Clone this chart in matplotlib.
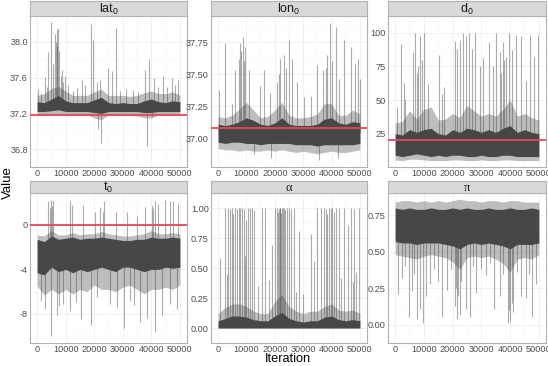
import numpy as np
import matplotlib.pyplot as plt

plt.rcParams['font.family'] = ['Liberation Sans', 'DejaVu Sans']
plt.rcParams['mathtext.fontset'] = 'custom'
plt.rcParams['mathtext.rm'] = 'Liberation Sans'
plt.rcParams['mathtext.it'] = 'Liberation Sans:italic'

# band grid (iterations)
iters = np.arange(0, 50001, 2500)

# lat0
lat_core_lo = [37.22, 37.22, 37.23, 37.24, 37.22, 37.22, 37.22, 37.22, 37.21, 37.20, 37.22,
               37.22, 37.22, 37.22, 37.22, 37.21, 37.21, 37.22, 37.22, 37.22, 37.22]
lat_core_hi = [37.33, 37.32, 37.36, 37.40, 37.34, 37.32, 37.32, 37.32, 37.35, 37.38, 37.32,
               37.31, 37.32, 37.31, 37.31, 37.34, 37.36, 37.33, 37.32, 37.34, 37.33]
lat_fuzz_lo = [37.19, 37.18, 37.19, 37.20, 37.18, 37.18, 37.18, 37.18, 37.15, 37.13, 37.18,
               37.18, 37.18, 37.18, 37.17, 37.15, 37.15, 37.18, 37.18, 37.18, 37.19]
lat_fuzz_hi = [37.40, 37.42, 37.48, 37.50, 37.45, 37.40, 37.40, 37.40, 37.44, 37.47, 37.40,
               37.40, 37.40, 37.39, 37.40, 37.43, 37.45, 37.42, 37.42, 37.44, 37.40]
lat_spike_it = [420, 1500, 2750, 3300, 3900, 4700, 5600, 6250, 6500, 6800, 7000, 7400, 7700,
                8200, 8600, 9200, 9750, 10900, 12500, 13800, 15600, 16750, 18850, 19700, 21400,
                22350, 21000, 22000, 24900, 26400, 27800, 29000, 31300, 33700, 35500, 37750,
                38600, 39300, 40100, 40900, 42500, 44200, 45600, 47100, 48300, 49400]
lat_spike_val = [37.47, 37.42, 37.61, 37.50, 37.89, 38.22, 37.75, 38.09, 38.00, 38.14, 37.95,
                 38.16, 37.90, 37.62, 37.69, 37.55, 37.62, 37.52, 37.45, 37.48, 37.57, 37.52,
                 38.20, 38.02, 37.02, 36.87, 37.55, 37.57, 37.71, 37.67, 38.16, 37.45, 37.47,
                 37.46, 37.44, 37.69, 36.84, 37.81, 37.16, 37.59, 37.50, 37.62, 37.50, 37.59,
                 37.52, 37.57]

# lon0
lon_core_lo = [36.97, 36.96, 36.97, 36.97, 36.96, 36.96, 36.95, 36.96, 36.96, 36.96, 36.96,
               36.95, 36.95, 36.95, 36.94, 36.95, 36.95, 36.95, 36.95, 36.95, 36.96]
lon_core_hi = [37.11, 37.10, 37.11, 37.13, 37.16, 37.14, 37.11, 37.10, 37.12, 37.16, 37.11,
               37.10, 37.10, 37.10, 37.11, 37.15, 37.16, 37.12, 37.11, 37.13, 37.12]
lon_fuzz_lo = [36.92, 36.91, 36.91, 36.90, 36.91, 36.90, 36.90, 36.91, 36.90, 36.91, 36.90,
               36.89, 36.90, 36.89, 36.88, 36.89, 36.90, 36.89, 36.89, 36.90, 36.91]
lon_fuzz_hi = [37.17, 37.16, 37.18, 37.23, 37.28, 37.22, 37.16, 37.17, 37.22, 37.28, 37.18,
               37.16, 37.16, 37.17, 37.19, 37.27, 37.27, 37.18, 37.18, 37.22, 37.19]
lon_spike_it = [340, 2470, 4840, 6020, 7300, 7800, 8200, 8740, 9100, 9570, 10750, 14900, 16080,
                18450, 20800, 21500, 22000, 23170, 24000, 24950, 26130, 27900, 30270, 32640,
                34770, 37130, 38000, 38550, 39500, 40300, 41510, 42700, 44470, 46830, 48250,
                49200, 49900, 12500, 18800, 35600, 42100]
lon_spike_val = [37.38, 37.74, 37.27, 37.53, 37.62, 37.74, 37.68, 37.79, 37.60, 37.71, 37.53,
                 37.41, 37.53, 37.35, 37.44, 37.50, 37.62, 37.65, 37.55, 37.77, 37.62, 37.44,
                 37.32, 37.33, 37.57, 37.53, 37.55, 37.65, 37.90, 37.60, 37.87, 37.46, 37.77,
                 37.71, 37.58, 37.62, 37.46, 36.88, 36.85, 36.83, 36.85]

# d0
d_core_lo = [9, 8, 9, 10, 9, 8, 9, 8, 9, 9, 8, 8, 9, 8, 8, 9, 9, 8, 8, 8, 8]
d_core_hi = [25, 24, 28, 26, 28, 29, 25, 24, 28, 26, 29, 28, 26, 28, 26, 29, 31, 26, 28, 26, 25]
d_fuzz_lo = [5.5, 5, 6, 6, 5.5, 5, 5, 5, 5.5, 5.5, 5, 5, 5.5, 5, 5, 5.5, 5.5, 5, 5, 5, 5]
d_fuzz_hi = [33, 34, 42, 36, 43, 45, 35, 36, 40, 37, 46, 42, 38, 40, 38, 43, 50, 38, 40, 37, 35]
d_spike_it = [600, 2000, 2920, 3500, 6150, 6950, 7500, 8110, 8680, 9300, 10070, 11570, 15370,
              16180, 17000, 20790, 21600, 22520, 23440, 24600, 25750, 26900, 27700, 29440,
              30600, 32670, 34050, 34970, 36350, 37000, 37510, 38000, 38660, 39580, 40740,
              42120, 43850, 45580, 46960, 48460, 49620]
d_spike_val = [45, 91.7, 62.7, 51, 86, 100, 70, 75, 97.5, 80, 100, 61.6, 83.6, 54.6, 60, 94,
               88, 95, 100, 97.5, 100, 88, 100, 75.5, 81, 93, 75.5, 100, 86, 70, 93, 80, 82,
               100, 87, 98.6, 97.5, 64, 98.6, 82, 98.6]

# t0
t_core_lo = [-4.3, -4.5, -3.8, -4.2, -4.0, -4.3, -4.0, -4.2, -4.0, -3.8, -4.0, -4.2, -3.8,
             -3.8, -4.0, -4.2, -4.0, -4.0, -3.8, -3.9, -3.8]
t_core_hi = [-1.3, -1.5, -1.0, -1.3, -1.2, -1.1, -1.3, -1.2, -1.2, -1.1, -1.2, -1.3, -1.4,
             -1.4, -1.3, -1.3, -1.1, -1.2, -1.2, -1.1, -1.2]
t_fuzz_lo = [-5.5, -6.3, -5.8, -6.2, -5.8, -6.2, -5.8, -6.0, -5.4, -5.8, -5.8, -6.0, -5.6,
             -5.4, -5.8, -6.2, -5.8, -5.8, -5.6, -5.8, -5.4]
t_fuzz_hi = [-0.9, -1.0, -0.5, -0.9, -0.9, -0.7, -0.9, -0.8, -0.8, -0.6, -0.8, -0.9, -1.0,
             -1.0, -0.9, -0.8, -0.5, -0.8, -0.8, -0.7, -0.8]
t_spike_it = [3900, 4400, 4730, 5200, 5670, 11500, 12100, 16170, 20250, 22000, 23000, 23400,
              27800, 31340, 34840, 37760, 40100, 40700, 41260, 42430, 44760, 46510, 47680,
              49430,
              1200, 2750, 4730, 6840, 7500, 9170, 11500, 13500, 15350, 18740, 20840, 25500,
              27840, 30410, 32510, 34000, 36010, 38580, 41260, 43590, 46510, 48850]
t_spike_val = [2.1, 1.5, 2.25, 1.7, 2.1, 2.1, 1.8, 1.8, 1.14, 1.6, 1.2, 2.1, 1.14, 1.14, 0.8,
               1.6, 1.8, 1.5, 2.1, 1.9, 2.25, 2.1, 2.1, 1.9,
               -6.8, -7.6, -10.0, -8.1, -7.3, -7.1, -7.7, -6.9, -8.5, -9.0, -6.5, -7.1, -7.4,
               -9.3, -6.8, -7.2, -8.7, -8.4, -9.65, -8.1, -7.1, -7.6]

# alpha
a_core_lo = [0.0] * 21
a_core_hi = [0.06, 0.08, 0.10, 0.10, 0.09, 0.07, 0.06, 0.06, 0.10, 0.13, 0.08, 0.06, 0.05,
             0.06, 0.06, 0.09, 0.10, 0.07, 0.06, 0.07, 0.06]
a_fuzz_lo = [0.0] * 21
a_fuzz_hi = [0.12, 0.17, 0.20, 0.20, 0.18, 0.14, 0.12, 0.12, 0.22, 0.28, 0.18, 0.14, 0.12,
             0.14, 0.14, 0.18, 0.20, 0.15, 0.14, 0.15, 0.12]
a_spike_it = [2470, 3650, 4240, 4830, 5400, 6020, 6610, 7200, 7790, 8380, 8980, 9700, 10400,
              11100, 11930, 12520, 15480, 16660, 20210, 20800, 21100, 21400, 21700, 21990,
              22300, 22580, 22900, 23170, 23600, 24120, 24950, 25540, 26720, 35000, 36180,
              37370, 37960, 38500, 39140, 39730, 40330, 41000, 41510, 42690, 44470, 46830,
              48020, 49790,
              700, 19030, 28500, 32640, 33820, 45650, 48610, 3000, 9400, 14000, 18000, 27400,
              30000, 43500, 47500]
a_spike_val = [1.0, 1.0, 0.99, 1.0, 0.95, 1.0, 0.99, 1.0, 1.0, 1.0, 0.99, 0.9, 1.0, 1.0, 1.0,
               0.98, 1.0, 1.0, 1.0, 1.0, 0.97, 0.99, 1.0, 1.0, 0.96, 1.0, 1.0, 1.0, 0.98, 1.0,
               1.0, 0.99, 1.0, 1.0, 1.0, 1.0, 0.99, 0.95, 1.0, 1.0, 1.0, 0.97, 1.0, 1.0, 1.0,
               1.0, 0.99, 1.0,
               0.58, 0.69, 0.81, 0.78, 0.56, 0.86, 0.47, 0.45, 0.60, 0.35, 0.40, 0.30, 0.28,
               0.42, 0.38]

# pi
p_core_lo = [0.57, 0.56, 0.56, 0.55, 0.56, 0.56, 0.56, 0.55, 0.54, 0.52, 0.55, 0.56, 0.55,
             0.56, 0.55, 0.54, 0.52, 0.55, 0.55, 0.55, 0.56]
p_core_hi = [0.80, 0.79, 0.80, 0.79, 0.79, 0.80, 0.79, 0.79, 0.80, 0.79, 0.80, 0.79, 0.79,
             0.80, 0.79, 0.79, 0.80, 0.79, 0.79, 0.80, 0.79]
p_fuzz_lo = [0.48, 0.47, 0.46, 0.45, 0.47, 0.48, 0.47, 0.46, 0.43, 0.38, 0.46, 0.47, 0.46,
             0.47, 0.45, 0.42, 0.36, 0.45, 0.46, 0.45, 0.48]
p_fuzz_hi = [0.84, 0.85, 0.85, 0.84, 0.85, 0.84, 0.85, 0.84, 0.85, 0.86, 0.85, 0.85, 0.84,
             0.85, 0.85, 0.84, 0.85, 0.85, 0.84, 0.84, 0.84]
p_spike_it = [840, 2340, 3500, 4650, 5800, 6700, 7530, 8680, 9610, 10760, 12140, 13500, 14800,
              16180, 17910, 19500, 20790, 21200, 21600, 22000, 22520, 23000, 24600, 25980,
              27000, 28290, 30000, 31750, 33000, 34280, 36350, 37500, 39240, 39600, 40050,
              40500, 40970, 42500, 43850, 45580, 46600, 47660, 49040]
p_spike_val = [0.21, 0.32, 0.40, 0.05, 0.23, 0.35, 0.04, 0.11, 0.015, 0.2, 0.28, 0.38, 0.30,
               0.05, 0.24, 0.38, 0.13, 0.25, 0.04, 0.20, 0.07, 0.30, 0.11, 0.05, 0.40, 0.22,
               0.38, 0.34, 0.42, 0.11, 0.2, 0.35, 0.015, 0.10, 0.026, 0.15, 0.09, 0.36, 0.2,
               0.18, 0.35, 0.05, 0.28]

titles = [r'lat$_0$', r'lon$_0$', r'd$_0$', r't$_0$', 'α', 'π']
true_vals = [37.18, 37.08, 20, 0, None, None]
yticks = [[36.8, 37.2, 37.6, 38.0], [37.00, 37.25, 37.50, 37.75], [25, 50, 75, 100],
          [-8, -4, 0], [0.00, 0.25, 0.50, 0.75, 1.00], [0.00, 0.25, 0.50, 0.75]]
ytick_labels = [['36.8', '37.2', '37.6', '38.0'], ['37.00', '37.25', '37.50', '37.75'],
                ['25', '50', '75', '100'], ['-8', '-4', '0'],
                ['0.00', '0.25', '0.50', '0.75', '1.00'], ['0.00', '0.25', '0.50', '0.75']]
xticks = [0, 10000, 20000, 30000, 40000, 50000]

panels = [
    (lat_core_lo, lat_core_hi, lat_fuzz_lo, lat_fuzz_hi, lat_spike_it, lat_spike_val),
    (lon_core_lo, lon_core_hi, lon_fuzz_lo, lon_fuzz_hi, lon_spike_it, lon_spike_val),
    (d_core_lo, d_core_hi, d_fuzz_lo, d_fuzz_hi, d_spike_it, d_spike_val),
    (t_core_lo, t_core_hi, t_fuzz_lo, t_fuzz_hi, t_spike_it, t_spike_val),
    (a_core_lo, a_core_hi, a_fuzz_lo, a_fuzz_hi, a_spike_it, a_spike_val),
    (p_core_lo, p_core_hi, p_fuzz_lo, p_fuzz_hi, p_spike_it, p_spike_val),
]

W, H = 548, 366
fig = plt.figure(figsize=(W / 100, H / 100), dpi=100)

col_l = [30, 211, 388]
col_r = [187, 367, 546]
row_panel = [(16, 167), (193, 343)]
row_strip = [(0.5, 16), (181, 193)]

trace_col = '#474747'
edge_col = '#B3B3B3'

for i, (clo, chi, flo, fhi, s_it, s_val) in enumerate(panels):
    r, c = divmod(i, 3)
    l, rr = col_l[c], col_r[c]
    t, b = row_panel[r]
    ax = fig.add_axes([l / W, 1 - b / H, (rr - l) / W, (b - t) / H])
    clo, chi = np.array(clo), np.array(chi)

    ax.fill_between(iters, flo, fhi, color=trace_col, alpha=0.35, lw=0, zorder=2)
    ax.fill_between(iters, clo, chi, color=trace_col, lw=0, zorder=3)
    base = np.interp(s_it, iters, (clo + chi) / 2)
    ax.vlines(s_it, base, s_val, color=trace_col, lw=0.8, alpha=0.45, zorder=2)

    if true_vals[i] is not None:
        ax.axhline(true_vals[i], color='#E8455D', lw=1.3, zorder=4)

    lo = min(min(flo), min(s_val))
    hi = max(max(fhi), max(s_val))
    pad = 0.05 * (hi - lo)
    ax.set_ylim(lo - pad, hi + pad)
    ax.set_xlim(-2500, 52500)

    ax.set_xticks(xticks)
    ax.set_xticklabels([str(v) for v in xticks])
    ax.set_yticks(yticks[i])
    ax.set_yticklabels(ytick_labels[i])
    yt = yticks[i]
    step = yt[1] - yt[0]
    ax.set_yticks([v + step / 2 for v in [yt[0] - step] + yt], minor=True)
    ax.set_xticks([5000, 15000, 25000, 35000, 45000], minor=True)
    ax.grid(True, which='major', color='#EBEBEB', lw=0.5, zorder=0)
    ax.grid(True, which='minor', color='#F5F5F5', lw=0.3, zorder=0)
    ax.set_axisbelow(True)
    ax.tick_params(which='major', length=0, labelsize=6.6, labelcolor='#4D4D4D', pad=1.5)
    ax.tick_params(which='minor', length=0)
    for sp in ax.spines.values():
        sp.set_color(edge_col)
        sp.set_linewidth(0.8)

    st, sb = row_strip[r]
    sax = fig.add_axes([l / W, 1 - sb / H, (rr - l) / W, (sb - st) / H])
    sax.set_facecolor('#D9D9D9')
    sax.set_xticks([])
    sax.set_yticks([])
    for sp in sax.spines.values():
        sp.set_color(edge_col)
        sp.set_linewidth(0.8)
    fam = ['Liberation Serif', 'DejaVu Serif'] if i >= 4 else ['Liberation Sans', 'DejaVu Sans']
    sax.text(0.5, 0.45, titles[i], ha='center', va='center', fontsize=9,
             color='#1A1A1A', family=fam, transform=sax.transAxes)

fig.text(8 / W, 1 - 183 / H, 'Value', rotation=90, ha='center', va='center', fontsize=9.5)
fig.text(288 / W, 1 - 359 / H, 'Iteration', ha='center', va='center', fontsize=9.2)

fig.savefig('out.png', dpi=100)
